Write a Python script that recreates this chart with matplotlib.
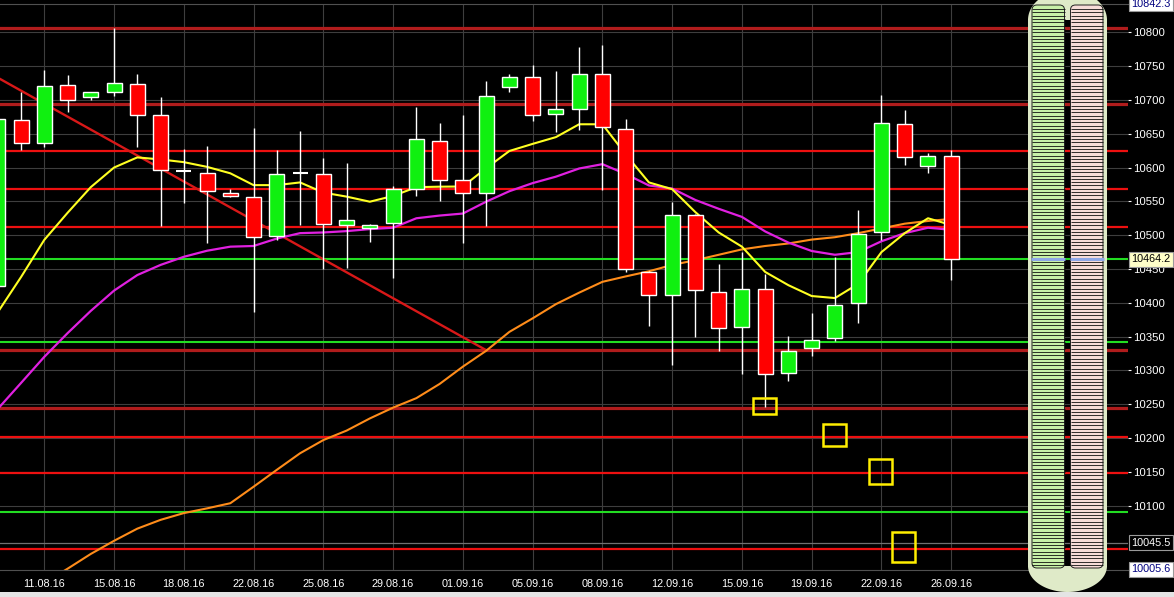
import numpy as np
import matplotlib
matplotlib.use("Agg")
import matplotlib.pyplot as plt
import matplotlib.transforms as mtransforms
from matplotlib.patches import Rectangle, Polygon, FancyBboxPatch

plt.rcParams["font.family"] = ["Liberation Sans", "DejaVu Sans"]

# daily candles, index 0 = first (partly visible) candle
opens = [10425, 10670, 10637, 10722, 10705, 10711, 10723, 10677, 10595, 10591.5,
         10563, 10556, 10499, 10592, 10590.5, 10514.6, 10511, 10517.6, 10568, 10640,
         10581, 10562, 10718.7, 10733.5, 10679, 10686, 10739, 10656.6, 10446, 10411.6,
         10529.4, 10416.5, 10364, 10420, 10296, 10333, 10347.6, 10399, 10504, 10664,
         10603, 10617]
highs = [10676, 10712, 10744, 10737, 10712, 10806, 10739, 10704, 10627.5, 10632,
         10568, 10659, 10626, 10654, 10614, 10606, 10517, 10573, 10690, 10665.5,
         10678, 10728, 10739, 10751.6, 10743, 10778, 10781, 10672, 10447, 10549,
         10531, 10457, 10474.7, 10442.6, 10351, 10384.5, 10468, 10537, 10707, 10685,
         10622, 10626]
lows = [10420, 10626, 10631, 10682, 10700, 10706, 10631, 10513, 10548, 10489,
        10557, 10386, 10493, 10515, 10450, 10452, 10490, 10437, 10558, 10550.6,
        10489, 10513, 10712, 10669, 10652.6, 10655.5, 10567, 10446, 10365, 10308,
        10350, 10329, 10294, 10245.5, 10285, 10322, 10344, 10370, 10493, 10604,
        10592, 10433]
closes = [10672, 10637, 10720, 10699.5, 10711, 10725, 10677, 10596, 10595, 10566,
          10558, 10498, 10590.5, 10592, 10516, 10522.5, 10514.6, 10568, 10642, 10581,
          10563, 10706, 10733.5, 10677, 10686, 10738, 10659.5, 10449.6, 10411.6, 10529.4,
          10419, 10362, 10420, 10294, 10329, 10344.6, 10396.8, 10501, 10665.5, 10615,
          10617, 10464.2]

# moving averages
ma_fast = [10386, 10438, 10493, 10533, 10571, 10600, 10615, 10612, 10608, 10601,
           10591.5, 10574, 10574, 10578, 10563, 10557, 10549.5, 10558, 10571, 10571.7,
           10572, 10599, 10624.5, 10635, 10645, 10664, 10664, 10619.5, 10578, 10568,
           10534, 10504, 10483, 10445.6, 10426, 10410, 10407, 10428, 10475, 10503,
           10525, 10515]
ma_mid = [10243, 10281.4, 10320, 10355, 10388, 10418, 10441, 10456, 10468, 10477,
          10483, 10484, 10495, 10503, 10504, 10506, 10509, 10511, 10525, 10529,
          10532, 10549.5, 10565, 10577, 10586.5, 10598.6, 10605, 10590.5, 10573.5, 10569,
          10552, 10539, 10527, 10505.5, 10489, 10476.6, 10471, 10475, 10491, 10503,
          10511, 10508]
ma_slow = [9944, 9965, 9986, 10006.7, 10028.6, 10048, 10066, 10079, 10089, 10096,
           10103.6, 10128, 10153, 10177.5, 10197, 10211, 10229, 10245, 10259, 10280,
           10305.6, 10329, 10357, 10377, 10398, 10415, 10431, 10439, 10446.6, 10456,
           10463, 10471, 10479, 10484, 10487.7, 10493.5, 10497, 10503, 10510, 10517,
           10521, 10524]

date_pos = [2, 5, 8, 11, 14, 17, 20, 23, 26, 29, 32, 35, 38, 41]
date_labels = ["11.08.16", "15.08.16", "18.08.16", "22.08.16", "25.08.16", "29.08.16",
               "01.09.16", "05.09.16", "08.09.16", "12.09.16", "15.09.16", "19.09.16",
               "22.09.16", "26.09.16"]

red_levels = [10624.5, 10568, 10512, 10201, 10148.5, 10036]
dark_red_levels = [10806, 10694, 10330, 10245]
green_levels = [10464.2, 10341.6, 10091]

trend_x = [0.1, 21.0]
trend_y = [10731, 10330]

box_idx = [32.96, 35.99, 37.97, 38.96]
box_price = [10247, 10204, 10150, 10038.5]
box_h = [24, 33, 37, 44]

y_top = 10842.3
y_bottom = 10005.6
last_price = 10464.2
pivot = 10045.5

fig = plt.figure(figsize=(11.74, 5.97), dpi=100, facecolor="black")
ax = fig.add_axes([0, 27.5 / 597, 1128 / 1174, 565.8 / 597])
ax.set_facecolor("black")
ax.set_xlim(0.097, 48.6)
ax.set_ylim(y_bottom, y_top)

ax.set_yticks(np.arange(10100, 10801, 50))
ax.set_xticks(date_pos)
ax.set_xticklabels(date_labels)
ax.grid(True, color="#3e3e3e", lw=0.8, zorder=0)
ax.set_axisbelow(True)
ax.yaxis.tick_right()
ax.tick_params(axis="y", colors="white", labelsize=8.2, length=2, pad=2)
ax.tick_params(axis="x", colors="white", labelsize=7.8, length=0, pad=6.5)
for s in ["left", "right"]:
    ax.spines[s].set_visible(False)
for s in ["top", "bottom"]:
    ax.spines[s].set_color("#505050")

for lv in dark_red_levels:
    ax.axhline(lv, color="#b01c1c", lw=2.3, zorder=1)
for lv in red_levels:
    ax.axhline(lv, color="#ee1010", lw=1.6, zorder=1)
for lv in green_levels:
    ax.axhline(lv, color="#22dd22", lw=1.5, zorder=1)
ax.axhline(pivot, color="#707070", lw=0.9, zorder=1)

ax.plot(trend_x, trend_y, color="#d81818", lw=1.7, zorder=1.5)

x = np.arange(len(opens))
ax.plot(x, ma_slow, color="#ff8c1a", lw=1.5, zorder=2)
ax.plot(x, ma_mid, color="#e020e0", lw=1.6, zorder=2)
ax.plot(x, ma_fast, color="#ffff22", lw=1.5, zorder=2)

# candles
w = 0.645
o = np.array(opens)
c = np.array(closes)
ax.vlines(x, lows, highs, color="white", lw=1.0, zorder=3)
body = np.abs(c - o) >= 1
cols = np.where(c >= o, "#10f010", "#ff0000")
ax.bar(x[body], (c - o)[body], bottom=o[body], width=w, color=cols[body],
       edgecolor="white", linewidth=1.0, zorder=4)
ax.hlines(o[~body], x[~body] - w / 2, x[~body] + w / 2, color="white", lw=1.5, zorder=4)

for bi, bp, bh in zip(box_idx, box_price, box_h):
    ax.add_patch(Rectangle((bi - 0.5, bp - bh / 2), 1.0, bh, fill=False,
                           edgecolor="#ffee00", lw=1.8, zorder=5))

# boxed price labels on the right scale
blend_r = mtransforms.blended_transform_factory(ax.transAxes, ax.transData)
for val, fc, tc in [(y_top, "white", "#000080"), (last_price, "#ffffc8", "black"),
                    (pivot, "black", "white"), (y_bottom, "white", "#000080")]:
    ax.text(1.0 + 3 / 1128, val, f"{val:.1f}", transform=blend_r, ha="left", va="center",
            fontsize=7.8, color=tc, zorder=10, clip_on=False,
            bbox=dict(boxstyle="square,pad=0.22", fc=fc, ec="#9a9a9a", lw=0.8))

# gauge widget on the right (pixel overlay)
ov = fig.add_axes([0, 0, 1, 1], zorder=5)
ov.set_xlim(0, 1174)
ov.set_ylim(597, 0)
ov.axis("off")
ov.patch.set_alpha(0)

cream = "#dfeac8"
cx, a = 1067.5, 39.5
t = np.linspace(0, np.pi, 60)
ov.add_patch(Polygon(np.column_stack([cx + a * np.cos(t), 20 - 30 * np.sin(t)]),
                     closed=True, fc=cream, ec="none"))
ov.add_patch(Polygon(np.column_stack([cx + a * np.cos(t), 566 + 26 * np.sin(t)]),
                     closed=True, fc=cream, ec="none"))
ov.add_patch(Rectangle((1028, 19), 4, 548, fc=cream, ec="none"))
ov.add_patch(Rectangle((1103, 19), 4, 548, fc=cream, ec="none"))
for bx, fc in [(1032, "#c8f0a8"), (1070.5, "#f6dcd8")]:
    ov.add_patch(FancyBboxPatch((bx, 5), 32.5, 563, boxstyle="round,pad=0,rounding_size=5",
                                fc=fc, ec="#202020", lw=0.7))
    ys = np.arange(9, 566, 3.33)
    ov.hlines(ys, bx, bx + 32.5, color="#101010", lw=0.6)

blend_g = mtransforms.blended_transform_factory(ov.transData, ax.transData)
for bx in [1031, 1070]:
    ov.plot([bx, bx + 34], [last_price, last_price], color="#8fa8e8", lw=2.2,
            transform=blend_g, solid_capstyle="butt")

fig.add_artist(Rectangle((0, 0), 1, 5.5 / 597, transform=fig.transFigure,
                         fc="#e4e4e4", ec="none"))

fig.savefig("out.png", dpi=100, facecolor="black")
